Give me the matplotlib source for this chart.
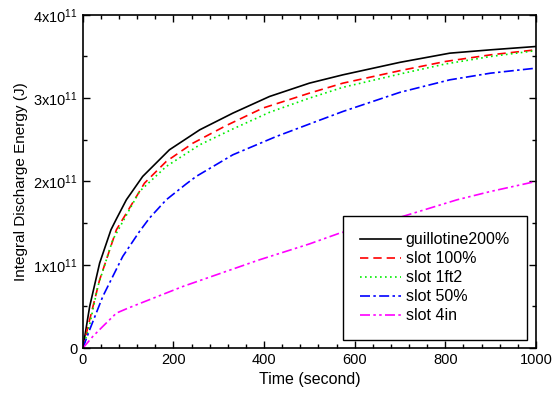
import matplotlib
matplotlib.use("Agg")
import matplotlib.pyplot as plt
from matplotlib.ticker import MultipleLocator, FuncFormatter

plt.rcParams["font.family"] = ["Liberation Sans", "DejaVu Sans"]
plt.rcParams["mathtext.fontset"] = "custom"
plt.rcParams["mathtext.rm"] = "Liberation Sans"
plt.rcParams["mathtext.it"] = "Liberation Sans"

# data (time in s, energy in 1e11 J)
t_black = [0, 15, 37, 62, 74, 96, 132, 191, 258, 331, 412, 500, 574, 700, 810, 900, 1000]
e_black = [0, 0.5, 1.02, 1.42, 1.55, 1.78, 2.06, 2.38, 2.62, 2.82, 3.02, 3.18, 3.28, 3.43, 3.54, 3.58, 3.62]

t_red = [0, 15, 37, 74, 136, 184, 243, 316, 397, 500, 574, 700, 800, 900, 1000]
e_red = [0, 0.34, 0.82, 1.42, 1.98, 2.24, 2.46, 2.67, 2.88, 3.06, 3.18, 3.33, 3.44, 3.52, 3.58]

t_green = [0, 15, 33, 66, 125, 184, 258, 331, 412, 500, 574, 700, 800, 900, 1000]
e_green = [0, 0.28, 0.74, 1.3, 1.88, 2.18, 2.44, 2.63, 2.83, 3.0, 3.13, 3.29, 3.41, 3.5, 3.57]

t_blue = [0, 15, 44, 88, 125, 147, 184, 228, 250, 331, 427, 515, 574, 700, 810, 900, 1000]
e_blue = [0, 0.22, 0.62, 1.1, 1.4, 1.56, 1.78, 1.97, 2.06, 2.32, 2.54, 2.72, 2.84, 3.07, 3.22, 3.3, 3.36]

t_mag = [0, 22, 44, 74, 100, 221, 390, 500, 567, 700, 826, 900, 1000]
e_mag = [0, 0.14, 0.26, 0.42, 0.48, 0.74, 1.06, 1.25, 1.38, 1.57, 1.78, 1.88, 2.0]

labels = ["guillotine200%", "slot 100%", "slot 1ft2", "slot 50%", "slot 4in"]

fig = plt.figure(figsize=(5.6, 4.01), dpi=100)
ax = fig.add_axes([0.148, 0.132, 0.809, 0.831])

scale = 1e11
ax.plot(t_black, [v * scale for v in e_black], color="black", lw=1.2, label=labels[0])
ax.plot(t_red, [v * scale for v in e_red], color="red", lw=1.2, ls=(0, (5, 3)), label=labels[1])
ax.plot(t_green, [v * scale for v in e_green], color="#00ee00", lw=1.2, ls=(0, (1, 2)), label=labels[2])
ax.plot(t_blue, [v * scale for v in e_blue], color="blue", lw=1.2, ls=(0, (6, 2, 1.5, 2)), label=labels[3])
ax.plot(t_mag, [v * scale for v in e_mag], color="magenta", lw=1.2,
        ls=(0, (6, 2, 1.5, 2, 1.5, 2)), label=labels[4])

ax.set_xlim(0, 1000)
ax.set_ylim(0, 4e11)
ax.xaxis.set_major_locator(MultipleLocator(200))
ax.xaxis.set_minor_locator(MultipleLocator(40))
ax.yaxis.set_major_locator(MultipleLocator(1e11))
ax.yaxis.set_minor_locator(MultipleLocator(0.5e11))


def yfmt(v, pos):
    n = int(round(v / 1e11))
    if n == 0:
        return "0"
    return r"$%d\mathrm{x}10^{11}$" % n


ax.yaxis.set_major_formatter(FuncFormatter(yfmt))
ax.tick_params(which="both", direction="in", top=True, right=True, labelsize=10.5)
ax.tick_params(which="major", length=5, width=1)
ax.tick_params(which="minor", length=3, width=1)
for s in ax.spines.values():
    s.set_linewidth(1.2)

ax.set_xlabel("Time (second)", fontsize=11.5)
ax.set_ylabel("Integral Discharge Energy (J)", fontsize=11)

leg = ax.legend(loc="lower right", bbox_to_anchor=(0.98, 0.024), borderaxespad=0, fontsize=11.5,
                fancybox=False, edgecolor="black", framealpha=1, handlelength=2.6, borderpad=1.05,
                labelspacing=0.25, handletextpad=0.3)
leg.get_frame().set_linewidth(1.0)

fig.savefig("out.png", dpi=100)
